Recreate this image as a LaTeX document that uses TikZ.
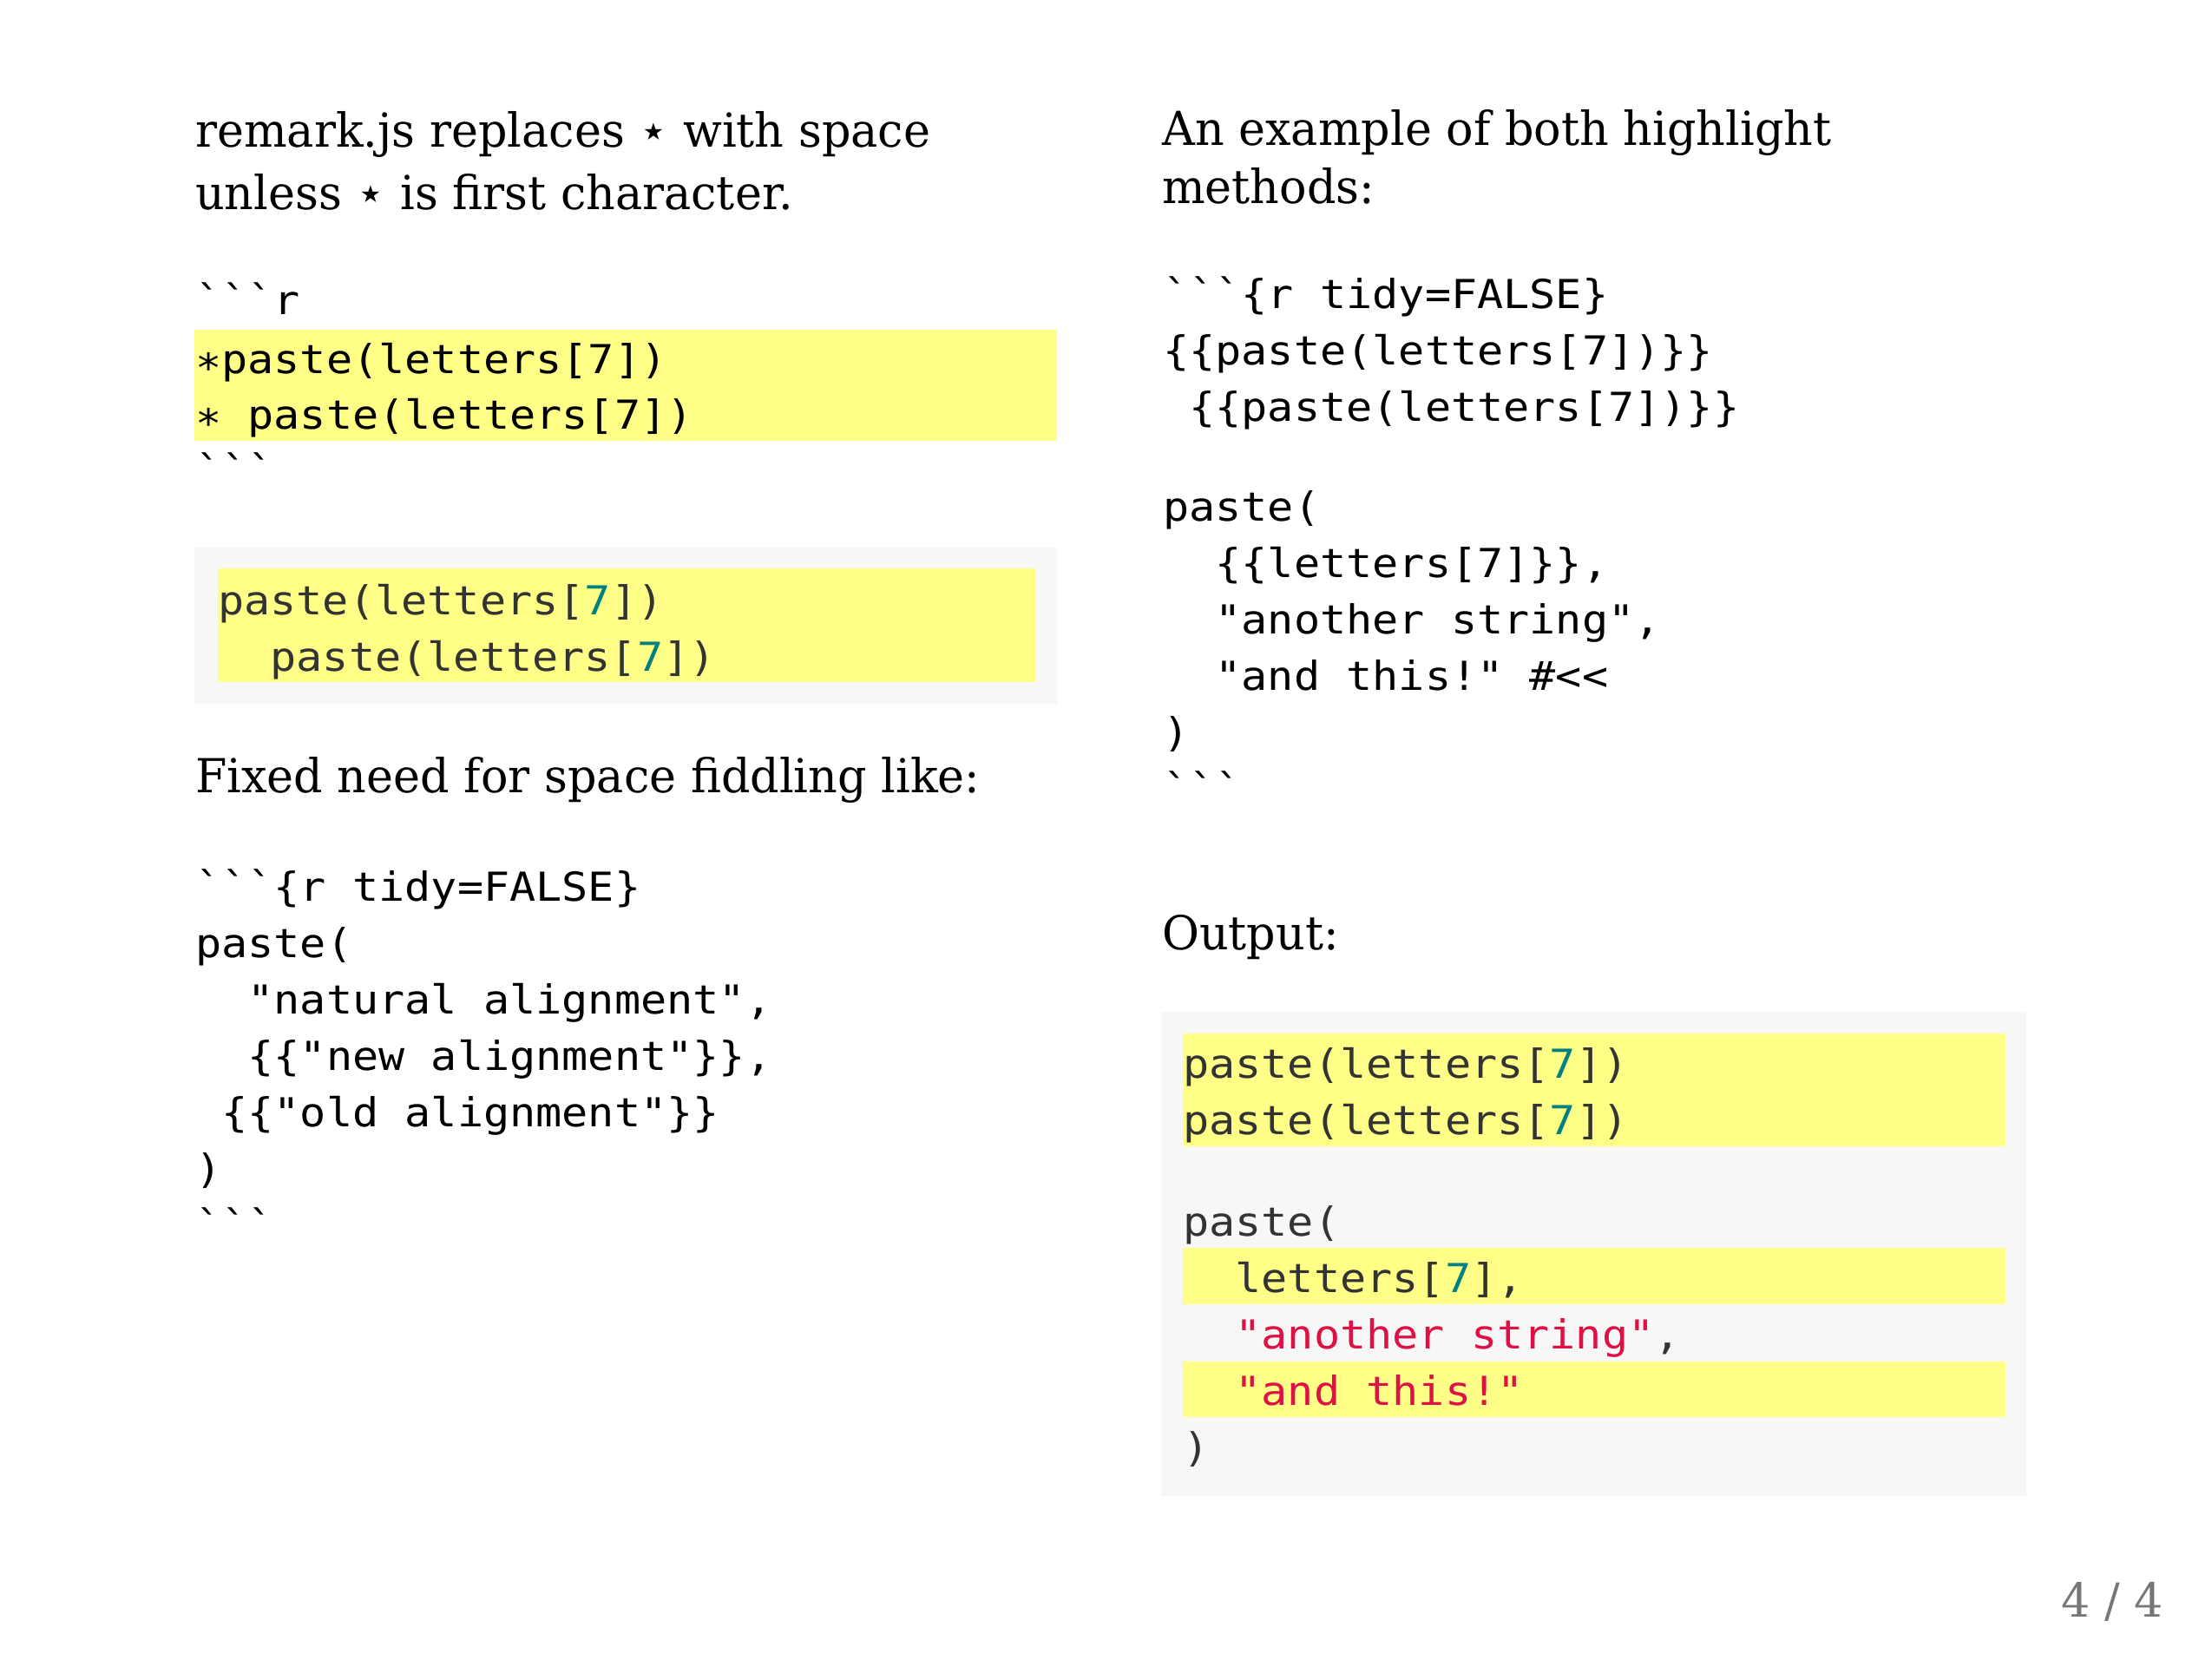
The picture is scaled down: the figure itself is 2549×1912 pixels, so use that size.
\documentclass[tikz,border=0pt]{standalone}
\usepackage{fontspec}
\setmainfont{DejaVu Serif}[FakeStretch=0.97]
\setmonofont{DejaVu Sans Mono}[FakeStretch=1.09]
\newfontfamily\symf{DejaVu Sans}
\definecolor{hl}{HTML}{FFFF88}
\definecolor{codebg}{HTML}{F7F7F7}
\definecolor{outtxt}{HTML}{333333}
\definecolor{numcol}{HTML}{008080}
\definecolor{strcol}{HTML}{DD1144}
\definecolor{pagecol}{HTML}{777777}
\newcommand\bodyf{\fontsize{54}{65}\selectfont}
\newcommand\codef{\ttfamily\fontsize{46}{65}\selectfont\frenchspacing}
\newcommand\spc{\phantom{x}}
\newcommand\nm[1]{\textcolor{numcol}{#1}}
\newcommand\st[1]{\textcolor{strcol}{#1}}
\newcommand\tstar{{\symf ⋆}}
\newcommand\cstar{\raisebox{-10pt}{*}}
\tikzset{
  txt/.style={anchor=base west, inner sep=0pt, font=\bodyf},
  code/.style={anchor=base west, inner sep=0pt, font=\codef},
  outc/.style={anchor=base west, inner sep=0pt, font=\codef, text=outtxt},
  hlbox/.style={fill=hl, draw=none},
  bgbox/.style={fill=codebg, draw=none},
}
\begin{document}
\begin{tikzpicture}[x=1pt,y=-1pt]
\useasboundingbox[fill=white] (0,0) rectangle (2549,1912);
% ---------- left column ----------
\node[txt] (t1) at (225,169) {remark.js replaces \tstar{} with space};
\node[txt] (t2) at (225,241) {unless \tstar{} is first character.};
\fill[hlbox] (224,380) rectangle (1218,508);
\node[code] (c1) at (225,362) {```r};
\node[code] (c2) at (225,430) {\cstar paste(letters[7])};
\node[code] (c3) at (225,494) {\cstar\spc paste(letters[7])};
\node[code] (c4) at (225,558) {```};
\fill[bgbox] (224,631) rectangle (1218,811);
\fill[hlbox] (251,655) rectangle (1193,786);
\node[outc] (o1) at (251,708) {paste(letters[\nm{7}])};
\node[outc] (o2) at (251,773) {\spc\spc paste(letters[\nm{7}])};
\node[txt] (t3) at (225,913) {Fixed need for space fiddling like:};
\node[code] (d1) at (225,1038) {```\{r\spc tidy=FALSE\}};
\node[code] (d2) at (225,1103) {paste(};
\node[code] (d3) at (225,1168) {\spc\spc"natural\spc alignment",};
\node[code] (d4) at (225,1233) {\spc\spc\{\{"new\spc alignment"\}\},};
\node[code] (d5) at (225,1298) {\spc\{\{"old\spc alignment"\}\}};
\node[code] (d6) at (225,1363) {)};
\node[code] (d7) at (225,1428) {```};
% ---------- right column ----------
\node[txt] (r1) at (1339,167) {An example of both highlight};
\node[txt] (r2) at (1339,234) {methods:};
\node[code] (e1) at (1340,355) {```\{r\spc tidy=FALSE\}};
\node[code] (e2) at (1340,420) {\{\{paste(letters[7])\}\}};
\node[code] (e3) at (1340,485) {\spc\{\{paste(letters[7])\}\}};
\node[code] (e4) at (1340,600) {paste(};
\node[code] (e5) at (1340,665) {\spc\spc\{\{letters[7]\}\},};
\node[code] (e6) at (1340,730) {\spc\spc"another\spc string",};
\node[code] (e7) at (1340,795) {\spc\spc"and\spc this!"\spc\#<<};
\node[code] (e8) at (1340,860) {)};
\node[code] (e9) at (1340,925) {```};
\node[txt] (r3) at (1339,1094) {Output:};
\fill[bgbox] (1338,1166) rectangle (2335,1724);
\fill[hlbox] (1363,1191) rectangle (2311,1321);
\fill[hlbox] (1363,1438) rectangle (2311,1503);
\fill[hlbox] (1363,1569) rectangle (2311,1633);
\node[outc] (p1) at (1363,1242) {paste(letters[\nm{7}])};
\node[outc] (p2) at (1363,1307) {paste(letters[\nm{7}])};
\node[outc] (p3) at (1363,1424) {paste(};
\node[outc] (p4) at (1363,1489) {\spc\spc letters[\nm{7}],};
\node[outc] (p5) at (1363,1554) {\spc\spc\st{"another\spc string"},};
\node[outc] (p6) at (1363,1619) {\spc\spc\st{"and\spc this!"}};
\node[outc] (p7) at (1363,1684) {)};
% ---------- page number ----------
\node[txt, anchor=base east, text=pagecol] (pg) at (2493,1863) {4 / 4};
\end{tikzpicture}
\end{document}
